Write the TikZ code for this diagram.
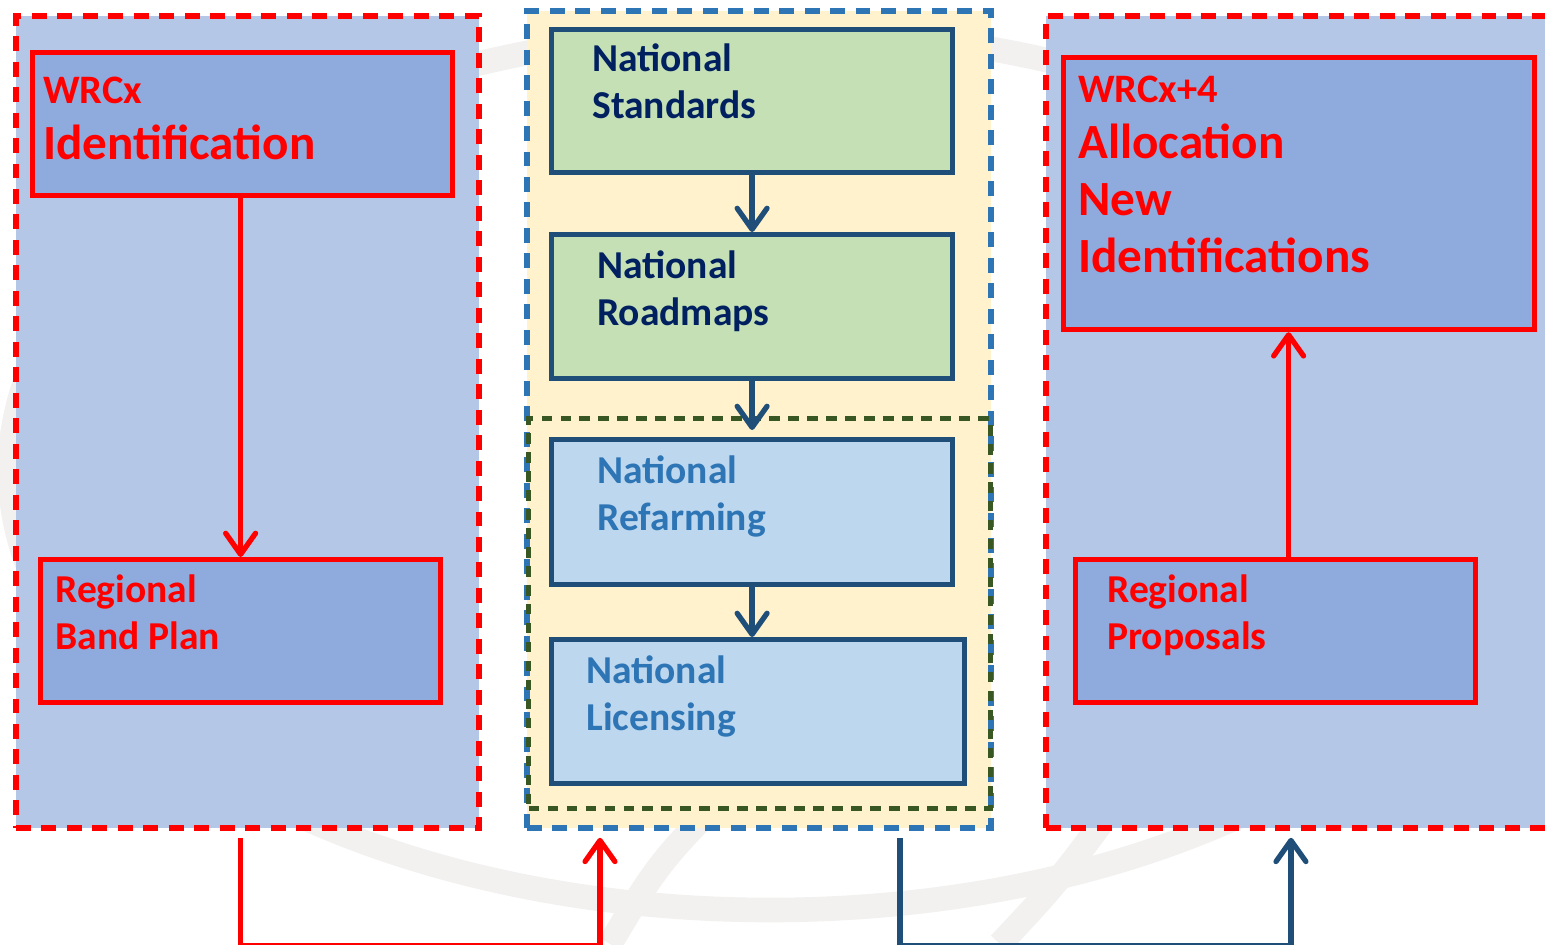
\documentclass[tikz,border=0pt]{standalone}
\usepackage{fontspec}
\setmainfont{Carlito}
\usetikzlibrary{arrows.meta}
\usetikzlibrary{positioning}
\definecolor{wrcred}{RGB}{255, 0, 0}
\definecolor{regfill}{RGB}{180, 199, 231}
\definecolor{boxfill}{RGB}{143, 170, 220}
\definecolor{natfill}{RGB}{255, 242, 204}
\definecolor{stdfill}{RGB}{197, 224, 180}
\definecolor{licfill}{RGB}{189, 215, 238}
\definecolor{natline}{RGB}{31, 78, 121}
\definecolor{nattext}{RGB}{0, 32, 96}
\definecolor{natblue}{RGB}{46, 117, 182}
\definecolor{natgreen}{RGB}{56, 87, 35}
\definecolor{wmark}{RGB}{242, 241, 240}
\tikzset{
    grpbox/.style={draw=#1, line width=3.4pt, dash pattern=on 8.5pt off 6pt, anchor=north west, inner sep=0pt},
    stepbox/.style={draw=#1, line width=3pt, anchor=north west, inner sep=0pt, minimum height=2.86cm},
    boxtxt/.style={anchor=base west, align=left, inner sep=0pt, font=\bfseries\fontsize{22.5}{26.6}\selectfont},
    flow/.style={line width=3pt, draw=#1, -{Straight Barb[length=12pt, width=17pt, round]}}
}
\begin{document}
\begin{tikzpicture}[x=0.02cm, y=-0.02cm]
    \clip (0,0) rectangle (1545,944);
    \fill[white] (0,0) rectangle (1545,944);

    % faint logo in the background
    \draw[wmark, line width=14pt] (770,470) ellipse [x radius=760, y radius=440];
    \draw[wmark, line width=14pt] (610,944) .. controls (660,860) .. (760,760);
    \draw[wmark, line width=14pt] (1000,944) .. controls (1060,880) .. (1140,770);

    % groups
    \node[grpbox=wrcred, fill=regfill, minimum width=9.26cm, minimum height=16.24cm] (leftgrp) at (13,13) {};
    \node[grpbox=wrcred, fill=regfill, minimum width=10.4cm, minimum height=16.24cm] (rightgrp) at (1043,13) {};
    \node[grpbox=natblue, fill=natfill, minimum width=9.28cm, minimum height=16.34cm] (midgrp) at (524,8) {};
    \node[grpbox=natgreen, line width=3pt, dash pattern=on 6pt off 4.8pt, minimum width=9.24cm, minimum height=7.8cm] (greengrp) at (526,416) {};

    % left column (texts sit on the baseline of their last line)
    \node[stepbox=wrcred, fill=boxfill, minimum width=8.4cm] (ident) at (30,50) {};
    \node[stepbox=wrcred, fill=boxfill, minimum width=8cm] (bandplan) at (38,557) {};
    \node[boxtxt, wrcred, font=\bfseries\fontsize{23}{31.8}\selectfont] (identtxt) at (43,159)
        {WRCx\\{\fontsize{28}{31.8}\selectfont Identification}};
    \node[boxtxt, wrcred] (bandplantxt) at (55,649) {Regional\\Band Plan};

    % middle column
    \node[stepbox=natline, fill=stdfill, minimum width=8.02cm] (std) at (549,27) {};
    \node[stepbox=natline, fill=stdfill, minimum width=8.02cm, minimum height=2.88cm] (road) at (549,232) {};
    \node[stepbox=natline, fill=licfill, minimum width=8.02cm, minimum height=2.9cm] (refarm) at (549,437) {};
    \node[stepbox=natline, fill=licfill, minimum width=8.26cm, minimum height=2.88cm] (lic) at (549,637) {};
    \node[boxtxt, nattext] (stdtxt) at (592,118) {National\\Standards};
    \node[boxtxt, nattext] (roadtxt) at (597,325) {National\\Roadmaps};
    \node[boxtxt, natblue] (refarmtxt) at (597,530) {National\\Refarming};
    \node[boxtxt, natblue] (lictxt) at (586,730) {National\\Licensing};

    % right column
    \node[stepbox=wrcred, fill=boxfill, minimum width=9.42cm, minimum height=5.44cm] (alloc) at (1061,55) {};
    \node[stepbox=wrcred, fill=boxfill, minimum width=8cm] (proposals) at (1073,557) {};
    \node[boxtxt, wrcred, font=\bfseries\fontsize{23}{32.2}\selectfont] (alloctxt) at (1078,272)
        {WRCx+4\\{\fontsize{28}{32.2}\selectfont Allocation}\\{\fontsize{28}{32.2}\selectfont New}\\{\fontsize{28}{32.2}\selectfont Identifications}};
    \node[boxtxt, wrcred] (proposalstxt) at (1107,649) {Regional\\Proposals};

    % arrows inside the groups
    \draw[flow=wrcred] (bandplan.north |- ident.south) -- (bandplan.north);
    \draw[flow=wrcred] ([xshift=0.26cm]proposals.north) -- ([xshift=0.26cm]proposals.north |- alloc.south);
    \draw[flow=natline] (std.south) -- (road.north);
    \draw[flow=natline, shorten >=0.14cm] (road.south) -- (refarm.north);
    \draw[flow=natline] (refarm.south) -- (refarm.south |- lic.north);

    % links between the groups
    \coordinate (redout) at ([yshift=-0.14cm]bandplan.south |- leftgrp.south);
    \coordinate (redin) at ([xshift=1.52cm, yshift=-0.14cm]midgrp.south west);
    \coordinate (blueout) at ([xshift=7.52cm, yshift=-0.14cm]midgrp.south west);
    \coordinate (bluein) at ([xshift=4.96cm, yshift=-0.14cm]rightgrp.south west);
    \draw[flow=wrcred] (redout) -- ++(0,108) -| (redin);
    \draw[flow=natline] (blueout) -- ++(0,108) -| (bluein);
\end{tikzpicture}
\end{document}
